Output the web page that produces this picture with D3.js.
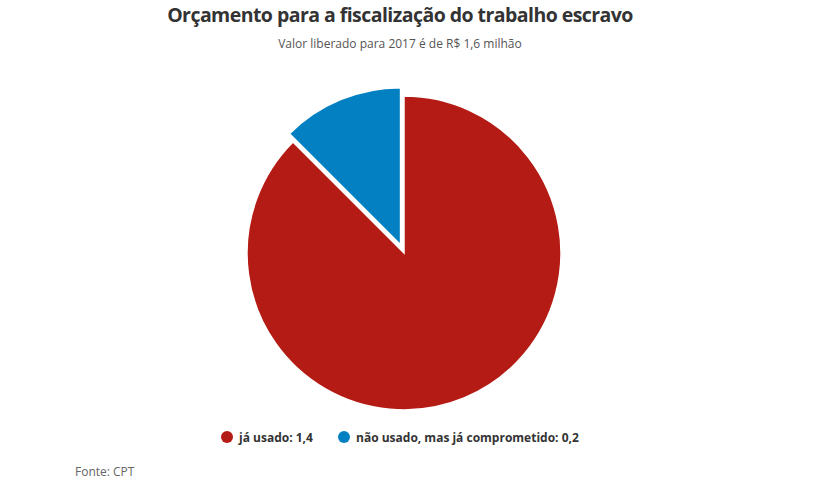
<!DOCTYPE html>
<html><head><meta charset="utf-8">
<script src="https://cdn.jsdelivr.net/npm/d3@7"></script>
<style>body{margin:0;background:#fff;font-family:"Open Sans",sans-serif;}</style>
</head><body><svg id="c" width="815" height="497"></svg>
<script>
const categories = ["já usado", "não usado, mas já comprometido"];
const values = [1.4, 0.2];
const valueLabels = ["1,4", "0,2"];
const colors = ["#b31b14", "#0280c1"];

const svg = d3.select("#c");
svg.append("text").attr("x", 400).attr("y", 22).attr("text-anchor", "middle")
  .attr("font-size", 19.5).attr("font-weight", 700).attr("fill", "#333")
  .attr("letter-spacing", -0.55)
  .text("Orçamento para a fiscalização do trabalho escravo");
svg.append("text").attr("x", 400).attr("y", 48).attr("text-anchor", "middle")
  .attr("font-size", 12).attr("fill", "#555")
  .text("Valor liberado para 2017 é de R$ 1,6 milhão");

const cx = 404, cy = 253, r = 157, explode = 9;
const pie = d3.pie().sort(null).startAngle(0).endAngle(2*Math.PI);
const arcs = pie(values);
const arc = d3.arc().innerRadius(0).outerRadius(r);
const g = svg.append("g").attr("transform", `translate(${cx},${cy})`);
g.selectAll("path").data(arcs).join("path")
  .attr("d", arc)
  .attr("fill", (d,i) => colors[i])
  .attr("stroke", "#fff").attr("stroke-width", 1.5)
  .attr("transform", (d,i) => {
    if (i === 0) return null;
    const a = (d.startAngle + d.endAngle) / 2;
    return `translate(${Math.sin(a)*explode},${-Math.cos(a)*explode})`;
  });

const legendX = [227, 344];
const lg = svg.append("g");
categories.forEach((c,i) => {
  lg.append("circle").attr("cx", legendX[i]).attr("cy", 437).attr("r", 6).attr("fill", colors[i]);
  lg.append("text").attr("x", legendX[i] + 12).attr("y", 441.5)
    .attr("font-size", 12).attr("font-weight", 700).attr("fill", "#333")
    .text(c + ": " + valueLabels[i]);
});
svg.append("text").attr("x", 75).attr("y", 476).attr("font-size", 12).attr("fill", "#666").text("Fonte: CPT");
</script></body></html>
